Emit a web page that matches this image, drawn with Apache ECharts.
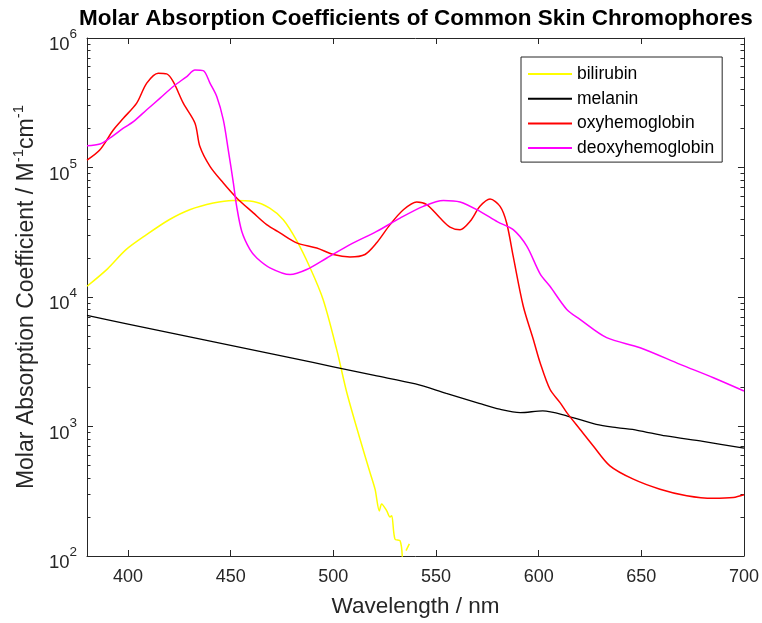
<!DOCTYPE html>
<html><head><meta charset="utf-8">
<script src="https://cdn.jsdelivr.net/npm/echarts@6/dist/echarts.min.js"></script>
<style>html,body{margin:0;padding:0;background:#fff}#c{width:762px;height:623px}</style>
</head><body><div id="c"></div>
<script>
// ---- data (wavelength nm, molar absorption coefficient M^-1 cm^-1) ----
const bilirubinWl = [380, 390, 399, 409, 420, 430, 441.5, 451, 461, 469, 475.6, 482, 488.6, 495, 501.6, 506.5, 513, 517.8, 520.3, 522.4, 523.5, 526, 527.6, 528.4, 530, 532.5, 533.6, 534.2, 535.4, 537];
const bilirubinVal = [12100, 16500, 23200, 30300, 39500, 47200, 53200, 55700, 54700, 48600, 39500, 27500, 16900, 9570, 3940, 1840, 798, 444, 328, 223, 252, 223, 200, 205, 135, 131, 97, null, 110, 124];

const melaninWl = [380, 400, 420, 440, 460, 480, 500, 520, 540, 555, 571, 581, 591, 602, 614, 628, 638, 648, 662, 680, 700];
const melaninVal = [7200, 6180, 5310, 4560, 3920, 3370, 2890, 2480, 2130, 1800, 1510, 1360, 1280, 1320, 1205, 1040, 980, 935, 845, 767, 680];

const oxyWl = [380, 386.3, 392.8, 397.7, 404.2, 409.1, 414.7, 418.8, 422, 426.9, 432.6, 435, 439.9, 446.4, 452.9, 461, 467.5, 474, 482.1, 491.9, 500, 508.1, 515.4, 521.1, 527.6, 534.1, 540.6, 545.5, 552, 556.8, 561.7, 566.6, 571.4, 576.3, 581.2, 584.4, 587.6, 592.5, 597.4, 600.7, 605.5, 610.4, 613.7, 620.1, 626.6, 634.7, 646.1, 659.1, 672.1, 685.1, 694.8, 700];
const oxyVal = [114000, 137000, 195000, 240000, 314000, 448000, 535000, 528000, 460000, 314000, 220000, 145000, 102000, 75800, 58200, 44600, 36200, 31300, 26200, 23900, 21300, 20400, 21300, 26200, 36200, 47200, 54200, 51700, 40700, 34700, 33100, 38400, 50100, 57100, 50100, 37300, 20600, 8490, 4700, 3110, 1940, 1530, 1280, 953, 708, 497, 392, 328, 292, 279, 283, 297];

const deoxyWl = [380, 386.3, 391.2, 397.7, 402.6, 409.1, 415.6, 422, 428.6, 432.6, 436.6, 439.9, 443.2, 446.4, 448.8, 451.3, 452.9, 455.4, 459.4, 462.7, 469.1, 478.9, 487, 496.8, 508.1, 521.1, 532.5, 543.8, 553.6, 561.7, 571.4, 580, 587.6, 594.2, 600.7, 605.5, 613.7, 620.1, 633.1, 649.4, 668.9, 685.1, 700];
const deoxyVal = [147000, 152000, 169000, 201000, 226000, 279000, 343000, 422000, 504000, 566000, 560000, 448000, 353000, 233000, 137000, 75800, 50100, 32100, 23200, 20000, 16800, 14900, 16300, 20000, 25400, 32100, 40700, 50100, 55700, 54200, 45800, 38000, 33100, 24700, 15100, 12100, 8020, 6720, 4850, 4060, 3020, 2380, 1880];

const seriesNames = ['bilirubin', 'melanin', 'oxyhemoglobin', 'deoxyhemoglobin'];
const seriesColors = ['#FFFF00', '#000000', '#FF0000', '#FF00FF'];

const xTicks = [400, 450, 500, 550, 600, 650, 700];
const yExponents = [2, 3, 4, 5, 6];

// ---- build ----
function zip(a, b) { return a.map((x, i) => [x, b[i]]); }
const minorExp = [];
for (let d = 2; d < 6; d++) for (let k = 2; k <= 9; k++) minorExp.push(d + Math.log10(k));

const C = '#262626';
const FONT = 'Liberation Sans, Arial, sans-serif';

const chart = echarts.init(document.getElementById('c'), null, {renderer: 'canvas'});

const expAxisBase = {
  type: 'value', min: 2, max: 6, interval: 1, gridIndex: 0,
  splitLine: {show: false}, axisLabel: {show: false}
};

const option = {
  backgroundColor: '#fff',
  animation: false,
  textStyle: {fontFamily: FONT},
  title: {
    text: 'Molar Absorption Coefficients of Common Skin Chromophores',
    left: 416, top: 7, textAlign: 'center', padding: 0,
    textStyle: {fontSize: 22.5, fontWeight: 'bold', color: '#000', fontFamily: FONT}
  },
  grid: {left: 87, right: 18, top: 38, bottom: 66, containLabel: false},
  legend: {
    orient: 'vertical', left: 521, top: 57,
    data: seriesNames,
    itemWidth: 44, itemHeight: 14, itemGap: 6.7,
    padding: [8, 8, 5, 6],
    borderColor: C, borderWidth: 1, backgroundColor: '#fff',
    itemStyle: {opacity: 0},
    textStyle: {fontSize: 17.5, color: '#000', fontFamily: FONT, lineHeight: 18}
  },
  xAxis: [
    {
      type: 'value', min: 380, max: 700, position: 'bottom',
      name: 'Wavelength / nm', nameLocation: 'middle', nameGap: 39,
      nameTextStyle: {fontSize: 22.5, color: C, fontFamily: FONT},
      axisLine: {show: true, lineStyle: {color: C, width: 1}},
      axisTick: {show: true, inside: true, length: 6, customValues: xTicks, lineStyle: {color: C}},
      axisLabel: {show: true, customValues: xTicks, fontSize: 18, color: C, margin: 12, fontFamily: FONT},
      splitLine: {show: false}
    },
    {
      type: 'value', min: 380, max: 700, position: 'top',
      axisLine: {show: true, lineStyle: {color: C, width: 1}},
      axisTick: {show: true, inside: true, length: 6, customValues: xTicks, lineStyle: {color: C}},
      axisLabel: {show: false},
      splitLine: {show: false}
    }
  ],
  yAxis: [
    {
      type: 'log', logBase: 10, min: 100, max: 1000000, position: 'left',
      axisLine: {show: false}, axisTick: {show: false}, axisLabel: {show: false}, splitLine: {show: false}
    },
    Object.assign({}, expAxisBase, {
      position: 'left',
      name: 'Molar Absorption Coefficient / M{s|-1}cm{s|-1}',
      nameLocation: 'middle', nameRotate: 90, nameGap: 44,
      nameTextStyle: {fontSize: 23, color: C, fontFamily: FONT,
        rich: {s: {fontSize: 15, color: C, fontFamily: FONT, padding: [0, 0, 15, 0]}}},
      axisLine: {show: true, lineStyle: {color: C, width: 1}},
      axisTick: {show: true, inside: true, length: 6, customValues: yExponents, lineStyle: {color: C}},
      axisLabel: {
        show: true, customValues: yExponents, margin: 10, color: C, fontFamily: FONT,
        formatter: v => '{b|10}{s|' + v + '}',
        rich: {
          b: {fontSize: 18.5, color: C, fontFamily: FONT, padding: [14, 0, 0, 0]},
          s: {fontSize: 13.5, color: C, fontFamily: FONT, padding: [0, 0, 7, 0]}
        }
      }
    }),
    Object.assign({}, expAxisBase, {
      position: 'left',
      axisLine: {show: false},
      axisTick: {show: true, inside: true, length: 3.5, customValues: minorExp, lineStyle: {color: C}}
    }),
    Object.assign({}, expAxisBase, {
      position: 'right',
      axisLine: {show: true, lineStyle: {color: C, width: 1}},
      axisTick: {show: true, inside: true, length: 6, customValues: yExponents, lineStyle: {color: C}}
    }),
    Object.assign({}, expAxisBase, {
      position: 'right',
      axisLine: {show: false},
      axisTick: {show: true, inside: true, length: 3.5, customValues: minorExp, lineStyle: {color: C}}
    })
  ],
  series: [
    {name: seriesNames[0], data: zip(bilirubinWl, bilirubinVal), smooth: 0.3},
    {name: seriesNames[1], data: zip(melaninWl, melaninVal), smooth: 0.3},
    {name: seriesNames[2], data: zip(oxyWl, oxyVal), smooth: 0.3},
    {name: seriesNames[3], data: zip(deoxyWl, deoxyVal), smooth: 0.3}
  ].map((s, i) => Object.assign({
    type: 'line', xAxisIndex: 0, yAxisIndex: 0, symbol: 'none', showSymbol: false,
    connectNulls: false, clip: true,
    color: seriesColors[i],
    lineStyle: {color: seriesColors[i], width: i === 1 ? 1.3 : 1.5},
    itemStyle: {color: seriesColors[i]}
  }, s))
};
chart.setOption(option);
</script>
</body></html>
